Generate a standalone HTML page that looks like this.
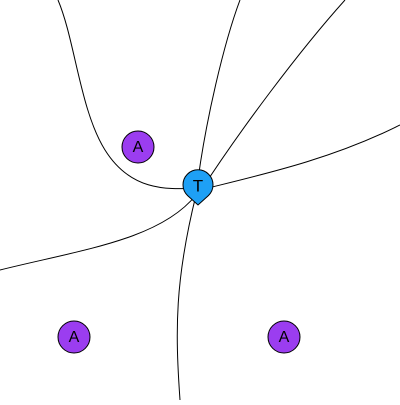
<!DOCTYPE html>
<html><head><style>html,body{margin:0;padding:0;background:#fff}</style></head>
<body>
<svg width="400" height="400" viewBox="0 0 400 400" xmlns="http://www.w3.org/2000/svg">
<g fill="none" stroke="#000" stroke-width="1">
<path d="M58,0 C75,40 80,110 105,150 C130,190 165,190 196,188"/>
<path d="M240,0 C225,40 205,120 196,195"/>
<path d="M345,0 C300,50 240,130 200,192"/>
<path d="M400,125 C330,160 260,175 200,190"/>
<path d="M0,270 C80,250 160,240 196,195"/>
<path d="M180,400 C175,330 175,280 196,195"/>
</g>
<g>
<path d="M187.5,195.5 A15,15 0 1 1 208.5,195.5 L198,205 Z" fill="#1ea0f5" stroke="#000" stroke-width="1"/>
<text x="198" y="187" font-family="Liberation Sans, sans-serif" font-size="17" text-anchor="middle" dominant-baseline="middle">T</text>
</g>
<g>
<circle cx="138" cy="147" r="16" fill="#9b3df0" stroke="#000" stroke-width="1"/>
<text x="138" y="148" font-family="Liberation Sans, sans-serif" font-size="16" text-anchor="middle" dominant-baseline="middle">A</text>
</g>
<g>
<circle cx="74" cy="337" r="16" fill="#9b3df0" stroke="#000" stroke-width="1"/>
<text x="74" y="338" font-family="Liberation Sans, sans-serif" font-size="16" text-anchor="middle" dominant-baseline="middle">A</text>
</g>
<g>
<circle cx="284" cy="337" r="16" fill="#9b3df0" stroke="#000" stroke-width="1"/>
<text x="284" y="338" font-family="Liberation Sans, sans-serif" font-size="16" text-anchor="middle" dominant-baseline="middle">A</text>
</g>
</svg>
</body></html>
